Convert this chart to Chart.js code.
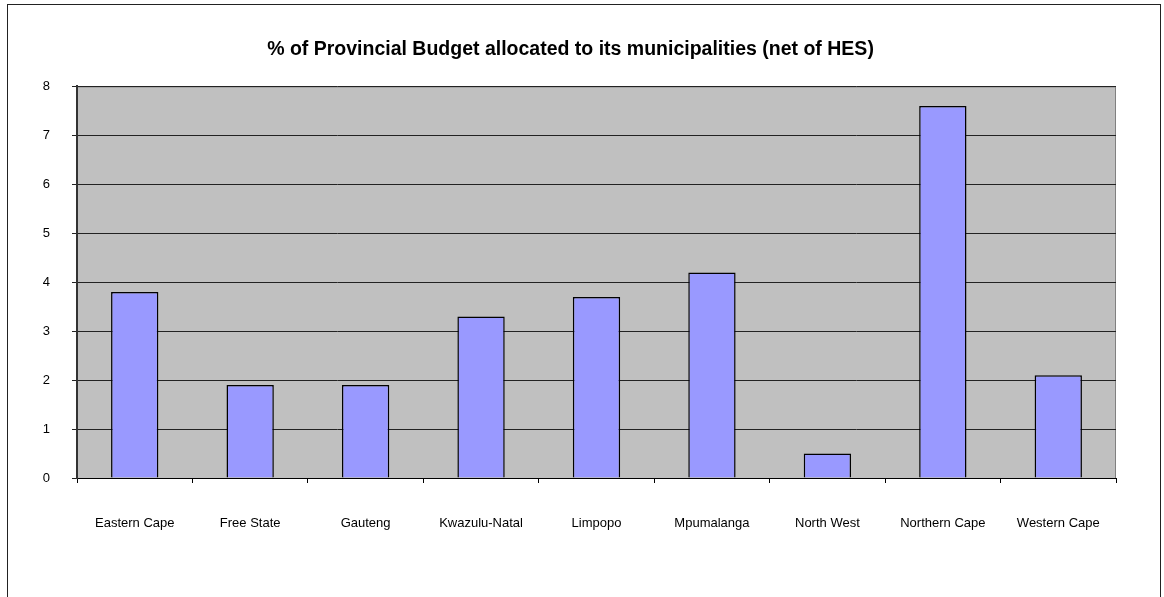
<!DOCTYPE html>
<html>
<head>
<meta charset="utf-8">
<script src="https://cdn.jsdelivr.net/npm/chart.js@4/dist/chart.umd.min.js"></script>
<style>
  html, body { margin: 0; padding: 0; background: #fff; overflow: hidden; }
  #frame { position: absolute; left: 7px; top: 4px; width: 1152px; height: 620px; border: 1px solid #222; }
  #wrap { position: absolute; left: 0; top: 0; width: 1164px; height: 597px; }
</style>
</head>
<body>
<div id="frame"></div>
<div id="wrap"><canvas id="chart" width="1164" height="597"></canvas></div>
<script>
const provinces = ['Eastern Cape', 'Free State', 'Gauteng', 'Kwazulu-Natal', 'Limpopo',
                   'Mpumalanga', 'North West', 'Northern Cape', 'Western Cape'];
const shareOfBudget = [3.8, 1.9, 1.9, 3.3, 3.7, 4.2, 0.5, 7.6, 2.1];
const yTicks = [0, 1, 2, 3, 4, 5, 6, 7, 8];

const FONT = '"Liberation Sans Narrow", "Arial Narrow", "Liberation Sans", Arial, sans-serif';

// grey plot background with a thin border, drawn under the bars
const plotBackground = {
    id: 'plotBackground',
    beforeDraw(chart) {
        const { ctx, chartArea: a } = chart;
        ctx.save();
        ctx.fillStyle = '#c0c0c0';
        ctx.fillRect(a.left, a.top, a.right - a.left, a.bottom - a.top);
        ctx.strokeStyle = '#808080';
        ctx.lineWidth = 1;
        ctx.strokeRect(a.left + 0.5, a.top + 0.5, a.right - a.left - 1, a.bottom - a.top);
        ctx.restore();
    }
};

new Chart(document.querySelector('#chart').getContext('2d'), {
    type: 'bar',
    data: {
        labels: provinces,
        datasets: [{
            data: shareOfBudget,
            backgroundColor: '#9999ff',
            borderColor: '#000',
            borderWidth: 1.5,
            barPercentage: 0.41,
            categoryPercentage: 1
        }]
    },
    options: {
        responsive: false,
        animation: false,
        layout: { padding: { left: 25, right: 48, top: 0, bottom: 0 } },
        plugins: {
            legend: { display: false },
            tooltip: { enabled: false },
            title: {
                display: true,
                text: '% of Provincial Budget allocated to its municipalities (net of HES)',
                color: '#000',
                font: { family: FONT, size: 19.5, weight: 'bold' },
                padding: { top: 38, bottom: 25 }
            }
        },
        scales: {
            x: {
                offset: true,
                grid: { offset: true, drawOnChartArea: false, color: '#000', tickLength: 5 },
                border: { color: '#000', width: 1 },
                ticks: { color: '#000', padding: 33, maxRotation: 0, font: { family: FONT, size: 13 } },
                afterFit(scale) { scale.height = 119; }
            },
            y: {
                min: 0,
                max: 8,
                afterBuildTicks(scale) { scale.ticks = yTicks.map(v => ({ value: v })); },
                grid: { color: '#222', lineWidth: 1, tickLength: 5 },
                border: { color: '#333', width: 2 },
                ticks: { color: '#000', padding: 22, font: { family: FONT, size: 13 } },
                afterFit(scale) { scale.width = 52; }
            }
        }
    },
    plugins: [plotBackground]
});
</script>
</body>
</html>
